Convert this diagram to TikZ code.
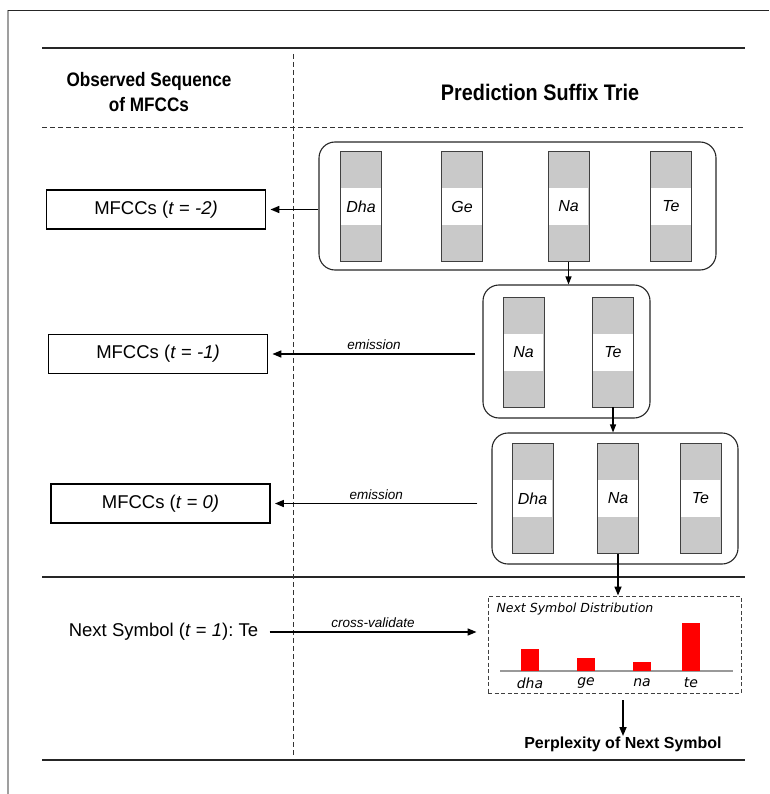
\documentclass[tikz,border=0pt]{standalone}
\usepackage{fontspec}
\setmainfont{Liberation Sans}
\newfontfamily\headfont[FakeStretch=0.88]{Liberation Sans}
\newfontfamily\dvfont{DejaVu Sans}
\usetikzlibrary{arrows.meta, positioning, calc}
\frenchspacing

\begin{document}
\begin{tikzpicture}[
    x=1pt, y=-1pt,
    rule/.style={line width=2pt, black!85},
    sep/.style={dashed, dash pattern=on 5pt off 3pt, line width=0.9pt, black!80},
    head/.style={font=\headfont\bfseries\fontsize{19.5}{25}\selectfont, align=center},
    mfcc/.style={rectangle, draw, line width=1.8pt, minimum width=219pt, minimum height=39pt, font=\fontsize{18.5}{21}\selectfont},
    trie/.style={rectangle, draw, rounded corners=16pt, line width=1.1pt, black!85},
    tok/.style={rectangle, draw=black!75, fill=black!21, line width=0.9pt, minimum width=41pt, minimum height=110pt, inner sep=0pt},
    toklab/.style={rectangle, fill=white, minimum width=39.5pt, minimum height=37pt, inner sep=0pt, font=\itshape\fontsize{16}{18}\selectfont},
    arrow/.style={-{Triangle[length=9pt, width=7pt]}, line width=1.6pt},
    small/.style={font=\itshape\fontsize{13.5}{15}\selectfont},
    distbox/.style={rectangle, draw=black!75, dashed, dash pattern=on 4pt off 2.5pt, line width=0.9pt, minimum width=253pt, minimum height=97pt}
]
\useasboundingbox (0,0) rectangle (769,794);

\draw[gray!75, line width=1.6pt] (8,794) -- (8,10);
\draw[black!85, line width=0.9pt] (8,10) -- (769,10);

\draw[rule] (42,48) -- (745,48);
\draw[sep] (42,127) -- (745,127);
\draw[rule] (42,577) -- (745,577);
\draw[rule] (42,760) -- (745,760);
\draw[sep] (293,54) -- (293,755);

\node[head] (obs) at (149,92) {Observed Sequence\\of MFCCs};
\node[head, font=\headfont\bfseries\fontsize{22.5}{25}\selectfont] (pst) at (540,92) {Prediction Suffix Trie};

\node[mfcc] (mfcc2) at (156,209.5) {MFCCs (\textit{t} = \textit{-2)}};
\node[mfcc] (mfcc1) at (158,354) {MFCCs (\textit{t} = \textit{-1)}};
\node[mfcc] (mfcc0) at (160.5,503.5) {MFCCs (\textit{t} = \textit{0)}};

\node[trie, minimum width=397pt, minimum height=128pt] (lvl0) at (517.5,206) {};
\foreach \x/\lab in {361/Dha, 462/Ge, 568.5/Na, 671/Te} {
    \node[tok] (l0\lab) at (\x,206.5) {};
    \node[toklab] at (l0\lab) {\lab};
}

\node[trie, minimum width=167pt, minimum height=133pt] (lvl1) at (566.5,351.5) {};
\foreach \x/\lab in {523.5/Na, 613/Te} {
    \node[tok] (l1\lab) at (\x,352) {};
    \node[toklab] at (l1\lab) {\lab};
}

\node[trie, minimum width=246pt, minimum height=131pt] (lvl2) at (615,498.5) {};
\foreach \x/\lab in {532.5/Dha, 618/Na, 700.5/Te} {
    \node[tok] (l2\lab) at (\x,498.5) {};
    \node[toklab] at (l2\lab) {\lab};
}

\draw[arrow] (lvl0.west |- mfcc2) -- ([xshift=4pt]mfcc2.east);
\draw[arrow] ([xshift=-7pt]lvl1.west |- mfcc1) -- node[above, small] {emission} ([xshift=4pt]mfcc1.east);
\draw[arrow] ([xshift=-14pt]lvl2.west |- mfcc0) -- node[above, small] {emission} ([xshift=4pt]mfcc0.east);

\draw[arrow, line width=1.1pt, -{Triangle[length=8pt, width=6pt]}] (l0Na.south) -- (l0Na.south |- lvl1.north);
\draw[arrow, line width=1.1pt, -{Triangle[length=8pt, width=6pt]}] (l1Te.south) -- (l1Te.south |- lvl2.north);

\node[font=\fontsize{18.5}{21}\selectfont] (next) at (163.5,632) {Next Symbol (\textit{t} = \textit{1}): Te};

\node[distbox] (dist) at (614.5,644.5) {};
\node[anchor=west, font=\dvfont\itshape\fontsize{12.5}{15}\selectfont] (disttitle) at (493,609) {Next Symbol Distribution};
\draw[gray!80, line width=1.6pt] (500,671) -- (733,671);
\foreach \x/\h/\lab in {530/22/dha, 586/13/ge, 642/9/na, 691/48/te} {
    \fill[red] (\x-9,671) rectangle (\x+9,671-\h);
    \node[font=\dvfont\itshape\fontsize{14}{16}\selectfont] (sym\lab) at (\x,683) {\lab};
}

\draw[arrow] (l2Na.south) -- (l2Na.south |- dist.north);
\draw[arrow] (next.east) ++(8pt,0) -- node[above, small] {cross-validate} ([xshift=-11pt]dist.west |- next);

\node[font=\bfseries\fontsize{16}{19}\selectfont] (perp) at (623,744) {Perplexity of Next Symbol};
\draw[arrow] ([yshift=-7pt]dist.south -| perp.north) -- ([yshift=-3pt]perp.north);

\end{tikzpicture}
\end{document}
